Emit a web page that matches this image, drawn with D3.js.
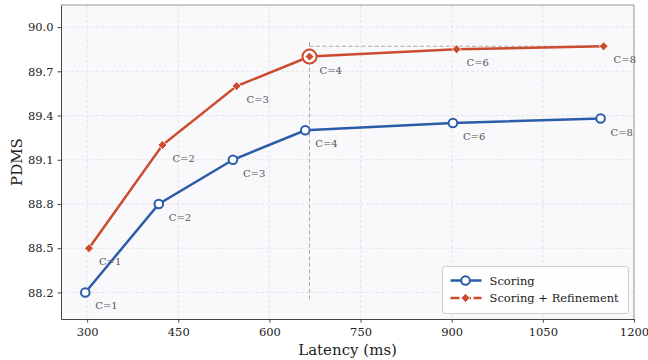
<!DOCTYPE html>
<meta charset="utf-8">
<div id="chart"></div>
<script src="https://d3js.org/d3.v7.min.js"></script>
<style type="text/css">
body { margin: 0; background: #fff; }
text { font-family: "DejaVu Serif", serif; }
.grid line { stroke: #dcdfe8; stroke-dasharray: 3,2; stroke-width: 0.8; }
.axis path, .axis line { stroke: #444; }
.axis text { font-size: 11.5px; fill: #222; font-family: "DejaVu Serif", serif; }
.lbl { font-size: 10px; fill: #555; }
</style>
<script>

var configs = ["C=1", "C=2", "C=3", "C=4", "C=6", "C=8"];
var scoringLatency = [297, 418, 540, 659, 902, 1145];
var scoringPdms = [88.2, 88.8, 89.1, 89.3, 89.35, 89.38];
var refineLatency = [303, 424, 546, 666, 908, 1150];
var refinePdms = [88.5, 89.2, 89.6, 89.8, 89.85, 89.87];
var xTicks = [300, 450, 600, 750, 900, 1050, 1200];
var yTicks = [88.2, 88.5, 88.8, 89.1, 89.4, 89.7, 90.0];

var blue = "#2b5ca8", orange = "#cc4b2c";

var margin = {top: 5, right: 14, bottom: 41, left: 61};
var width = 648 - margin.left - margin.right;
var height = 360 - margin.top - margin.bottom;

var svg = d3.select("#chart").append("svg")
    .attr("width", 648).attr("height", 360);
var g = svg.append("g").attr("transform", "translate(" + margin.left + "," + margin.top + ")");

var x = d3.scaleLinear().domain([257, 1200]).range([0, width]);
var y = d3.scaleLinear().domain([88.02, 90.15]).range([height, 0]);

g.append("rect").attr("width", width).attr("height", height).attr("fill", "#f9f9fc");

// grid
g.append("g").attr("class", "grid")
  .selectAll("line").data(xTicks).enter().append("line")
    .attr("x1", function(d){ return x(d); }).attr("x2", function(d){ return x(d); })
    .attr("y1", 0).attr("y2", height);
g.append("g").attr("class", "grid")
  .selectAll("line").data(yTicks).enter().append("line")
    .attr("y1", function(d){ return y(d); }).attr("y2", function(d){ return y(d); })
    .attr("x1", 0).attr("x2", width);

// frame: top/right lighter
g.append("line").attr("x1", 0).attr("x2", width).attr("y1", 0).attr("y2", 0).attr("stroke", "#999");
g.append("line").attr("x1", width).attr("x2", width).attr("y1", 0).attr("y2", height).attr("stroke", "#999");

g.append("g").attr("class", "axis")
  .attr("transform", "translate(0," + height + ")")
  .call(d3.axisBottom(x).tickValues(xTicks).tickSize(3.5).tickPadding(5).tickSizeOuter(0).tickFormat(d3.format("d")));
g.append("g").attr("class", "axis")
  .call(d3.axisLeft(y).tickValues(yTicks).tickSize(3.5).tickPadding(4).tickSizeOuter(0).tickFormat(d3.format(".1f")));

svg.append("text").attr("x", margin.left + x(750) - 13).attr("y", 355)
  .attr("text-anchor", "middle").attr("font-size", 15).attr("fill", "#222").text("Latency (ms)");
svg.append("text").attr("transform", "translate(22," + (margin.top + height / 2) + ") rotate(-90)")
  .attr("text-anchor", "middle").attr("font-size", 15).attr("fill", "#222").text("PDMS");

var scoring = configs.map(function(c, i){ return {c: c, lat: scoringLatency[i], v: scoringPdms[i]}; });
var refine = configs.map(function(c, i){ return {c: c, lat: refineLatency[i], v: refinePdms[i]}; });

var line = d3.line().x(function(d){ return x(d.lat); }).y(function(d){ return y(d.v); });

// reference lines at C=4 of refinement
var hi = refine[3], last = refine[5];
g.append("line")
  .attr("x1", x(hi.lat)).attr("x2", x(hi.lat))
  .attr("y1", y(89.9)).attr("y2", y(88.15))
  .attr("stroke", "#aaa").attr("stroke-width", 1).attr("stroke-dasharray", "4,2.5");
g.append("line")
  .attr("x1", x(hi.lat)).attr("x2", x(last.lat))
  .attr("y1", y(last.v)).attr("y2", y(last.v))
  .attr("stroke", "#aaa").attr("stroke-width", 1).attr("stroke-dasharray", "4,2.5");

g.append("path").datum(scoring).attr("d", line)
  .attr("fill", "none").attr("stroke", blue).attr("stroke-width", 2.5);
g.append("path").datum(refine).attr("d", line)
  .attr("fill", "none").attr("stroke", orange).attr("stroke-width", 2.5);

g.selectAll(".dot-s").data(scoring).enter().append("circle")
  .attr("cx", function(d){ return x(d.lat); }).attr("cy", function(d){ return y(d.v); })
  .attr("r", 4.3).attr("fill", "#fff").attr("stroke", blue).attr("stroke-width", 2);

// highlight ring
g.append("circle").attr("cx", x(hi.lat)).attr("cy", y(hi.v)).attr("r", 7)
  .attr("fill", "#fff").attr("stroke", orange).attr("stroke-width", 2);

var diamond = d3.symbol().type(d3.symbolDiamond2).size(50);
g.selectAll(".dot-r").data(refine).enter().append("path")
  .attr("d", diamond)
  .attr("transform", function(d){ return "translate(" + x(d.lat) + "," + y(d.v) + ")"; })
  .attr("fill", orange).attr("stroke", "#fff").attr("stroke-width", 0.8);

// point labels
[scoring, refine].forEach(function(s){
  g.selectAll(null).data(s).enter().append("text")
    .attr("class", "lbl")
    .attr("x", function(d){ return x(d.lat) + 10; })
    .attr("y", function(d){ return y(d.v) + 17; })
    .text(function(d){ return d.c; });
});

// legend
var lg = svg.append("g").attr("transform", "translate(442.5,266.5)");
lg.append("rect").attr("width", 186).attr("height", 47).attr("rx", 3)
  .attr("fill", "#fff").attr("fill-opacity", 0.85).attr("stroke", "#ccc");
lg.append("line").attr("x1", 8).attr("x2", 39).attr("y1", 14).attr("y2", 14)
  .attr("stroke", blue).attr("stroke-width", 2.5);
lg.append("circle").attr("cx", 23).attr("cy", 14).attr("r", 4.3)
  .attr("fill", "#fff").attr("stroke", blue).attr("stroke-width", 2);
lg.append("line").attr("x1", 8).attr("x2", 39).attr("y1", 31.5).attr("y2", 31.5)
  .attr("stroke", orange).attr("stroke-width", 2.5).attr("stroke-dasharray", "9,2.5");
lg.append("path").attr("d", diamond).attr("transform", "translate(23,31.5)")
  .attr("fill", orange).attr("stroke", "#fff").attr("stroke-width", 0.8);
lg.append("text").attr("x", 47).attr("y", 18).attr("font-size", 11.5).attr("fill", "#222").text("Scoring");
lg.append("text").attr("x", 47).attr("y", 35.5).attr("font-size", 11.5).attr("fill", "#222").text("Scoring + Refinement");
</script>
